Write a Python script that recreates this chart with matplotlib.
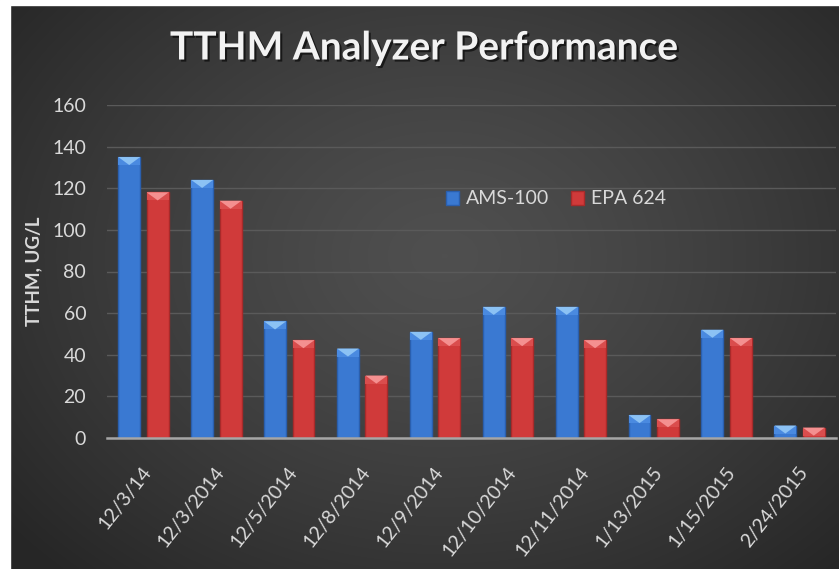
import numpy as np
import matplotlib
matplotlib.use('Agg')
import matplotlib.pyplot as plt
import matplotlib.patheffects as pe
from matplotlib.patches import Rectangle
from matplotlib.transforms import ScaledTranslation

# Dados
datas = ['12/3/14', '12/3/2014', '12/5/2014', '12/8/2014', '12/9/2014',
         '12/10/2014', '12/11/2014', '1/13/2015', '1/15/2015', '2/24/2015']
ams_100 = [135, 124, 56, 43, 51, 63, 63, 11, 52, 6]
epa_624 = [118, 114, 47, 30, 48, 48, 47, 9, 48, 5]
yticks = [0, 20, 40, 60, 80, 100, 120, 140, 160]

W, H = 839, 569
plt.rcParams['font.family'] = ['Lato', 'DejaVu Sans']

fig = plt.figure(figsize=(W / 100, H / 100), dpi=100, facecolor='#262626')

# Fundo com gradiente radial (estilo Excel escuro)
bg = fig.add_axes([0, 0, 1, 1])
yy, xx = np.mgrid[0:1:300j, 0:1:440j]
r = np.sqrt(((xx - 0.53) / 0.75) ** 2 + ((yy - 0.45) / 0.85) ** 2)
r = np.clip(r / 0.9, 0, 1)
c0, c1 = 0.31, 0.15
grad = c0 + (c1 - c0) * r ** 1.3
bg.imshow(np.dstack([grad] * 3), aspect='auto', extent=[0, 1, 0, 1],
          interpolation='bilinear')
bg.set_xlim(0, 1)
bg.set_ylim(0, 1)
bg.set_axis_off()

# Margens brancas (esquerda e topo)
fig.patches.append(Rectangle((0, 0), 10 / W, 1, transform=fig.transFigure,
                             color='white', zorder=1))
fig.patches.append(Rectangle((0, 1 - 5 / H), 1, 5 / H, transform=fig.transFigure,
                             color='white', zorder=1))

ax = fig.add_axes([107 / W, 1 - 438 / H, 729 / W, 333 / H])
ax.patch.set_alpha(0)

x = np.arange(len(datas))
larg = 0.30
desl = 0.195

azul, azul_claro, azul_borda = '#3a79d2', '#8cc2f4', '#2a5fae'
verm, verm_claro, verm_borda = '#d03a3a', '#f49090', '#a82a2a'

b1 = ax.bar(x - desl, ams_100, larg, color=azul, edgecolor=azul_borda,
            linewidth=1, zorder=3)
b2 = ax.bar(x + desl, epa_624, larg, color=verm, edgecolor=verm_borda,
            linewidth=1, zorder=3)

ax.set_xlim(-0.5, len(datas) - 0.5)
ax.set_ylim(0, 160)

# Efeito de chanfro no topo das barras
d = 8 * 160 / ax.bbox.height
for barras, meio, claro in [(b1, '#4a8ae0', azul_claro), (b2, '#da4d4d', verm_claro)]:
    for p in barras:
        x0, w, h = p.get_x(), p.get_width(), p.get_height()
        ax.fill([x0, x0 + w, x0 + w, x0], [h, h, h - d, h - d],
                color=meio, zorder=4, lw=0)
        ax.fill([x0, x0 + w, x0 + w / 2], [h, h, h - d],
                color=claro, zorder=5, lw=0)

ax.set_yticks(yticks)
ax.grid(axis='y', color='#5a5a5a', linewidth=1, zorder=0)
ax.set_axisbelow(True)
for s in ['top', 'right', 'left']:
    ax.spines[s].set_visible(False)
ax.spines['bottom'].set_color('#a6a6a6')
ax.spines['bottom'].set_linewidth(1.8)
ax.spines['bottom'].set_zorder(6)
ax.tick_params(axis='both', length=0, colors='#d9d9d9', labelsize=14)
ax.tick_params(axis='y', pad=15)
ax.tick_params(axis='x', pad=22)

ax.set_xticks(x)
ax.set_xticklabels(datas, rotation=52, ha='right', va='center',
                   rotation_mode='anchor')
for t in ax.get_xticklabels():
    t.set_transform(t.get_transform() + ScaledTranslation(5 / 100, 0, fig.dpi_scale_trans))

ax.set_ylabel('TTHM, UG/L', color='#d9d9d9', fontsize=13.5, fontweight='bold',
              labelpad=7)

fig.text(424 / W, 1 - 48 / H, 'TTHM Analyzer Performance', color='#f2f2f2',
         fontsize=28, fontweight='bold', ha='center', va='center',
         path_effects=[pe.withSimplePatchShadow(offset=(1.5, -1.5),
                                                shadow_rgbFace='black', alpha=0.6)])

leg = ax.legend([b1, b2], ['AMS-100', 'EPA 624'], loc='center',
                bbox_to_anchor=(556 / W, 1 - 199 / H), bbox_transform=fig.transFigure,
                ncol=2, frameon=False, fontsize=14, handlelength=0.7,
                handleheight=0.7, handletextpad=0.35, columnspacing=1.1)
for t in leg.get_texts():
    t.set_color('#d9d9d9')

fig.savefig('out.png', dpi=100, facecolor=fig.get_facecolor())
